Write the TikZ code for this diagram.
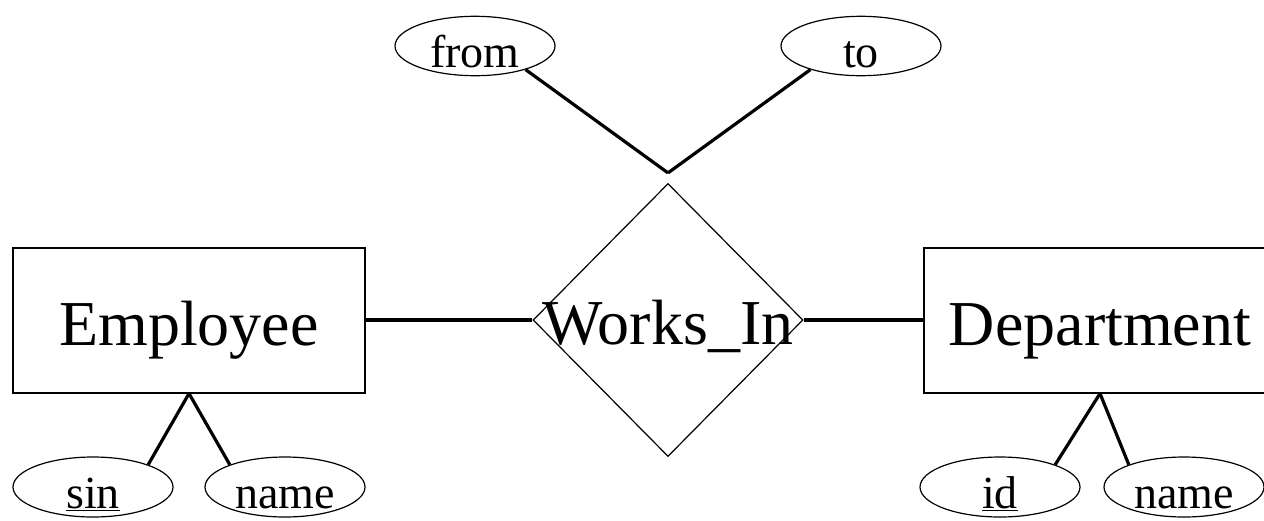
\documentclass[tikz,border=0pt]{standalone}
\usepackage{fontspec}
\setmainfont{Liberation Serif}
\usetikzlibrary{positioning,shapes.geometric}
\newcommand{\entfont}{\fontsize{64}{70}\selectfont}
\newcommand{\attfont}{\fontsize{46}{50}\selectfont}
\begin{document}
\begin{tikzpicture}[x=1pt, y=1pt, on grid]
	\tikzstyle{entity} = [
		draw, line width=2pt, fill=white,
		rectangle,
		minimum height=145pt, minimum width=352pt,
		text height=50pt, text depth=0pt,
		inner sep=0pt, font=\entfont];
	\tikzstyle{relation} = [
		draw, line width=1.2pt, fill=white,
		diamond,
		minimum height=273pt, minimum width=270pt,
		inner sep=0pt];
	\tikzstyle{attrib} = [
		draw, line width=1.2pt, fill=white,
		ellipse,
		minimum height=60pt, minimum width=160pt,
		text height=42pt, text depth=0pt,
		inner sep=0pt, font=\attfont];
	\tikzstyle{link} = [
		line width=3.2pt, line cap=butt];

	\useasboundingbox (0,0) rectangle (1264,-520);

	\node[entity] (emp) at (189,-320) {Employee};
	\node[relation, right=479pt of emp,
		label={[font=\entfont, text height=48pt, text depth=0pt]center:Works\_In}] (works) {};
	\node[entity, right=432pt of works] (dept) {Department};

	\node[attrib, minimum height=57pt, above left=274pt and 193pt of works] (from) {from};
	\node[attrib, minimum height=57pt, above right=274pt and 193pt of works] (to) {to};
	\coordinate[above=10pt of works.north] (wtop);

	\node[attrib, below left=167pt and 96pt of emp] (sin) {\underline{sin}};
	\node[attrib, below right=167pt and 96pt of emp] (ename) {name};
	\node[attrib, below left=167pt and 100pt of dept] (id) {\underline{id}};
	\node[attrib, below right=167pt and 84pt of dept] (dname) {name};

	\draw[link] (emp.east) to (works.west);
	\draw[link] (works.east) to (dept.west);
	\draw[link] (from.-25) to (wtop);
	\draw[link] (to.205) to (wtop);

	\draw[link] (emp.south) to (sin.22);
	\draw[link] (emp.south) to (ename.158);
	\draw[link] (dept.south) to (id.22);
	\draw[link] (dept.south) to (dname.158);
\end{tikzpicture}
\end{document}
